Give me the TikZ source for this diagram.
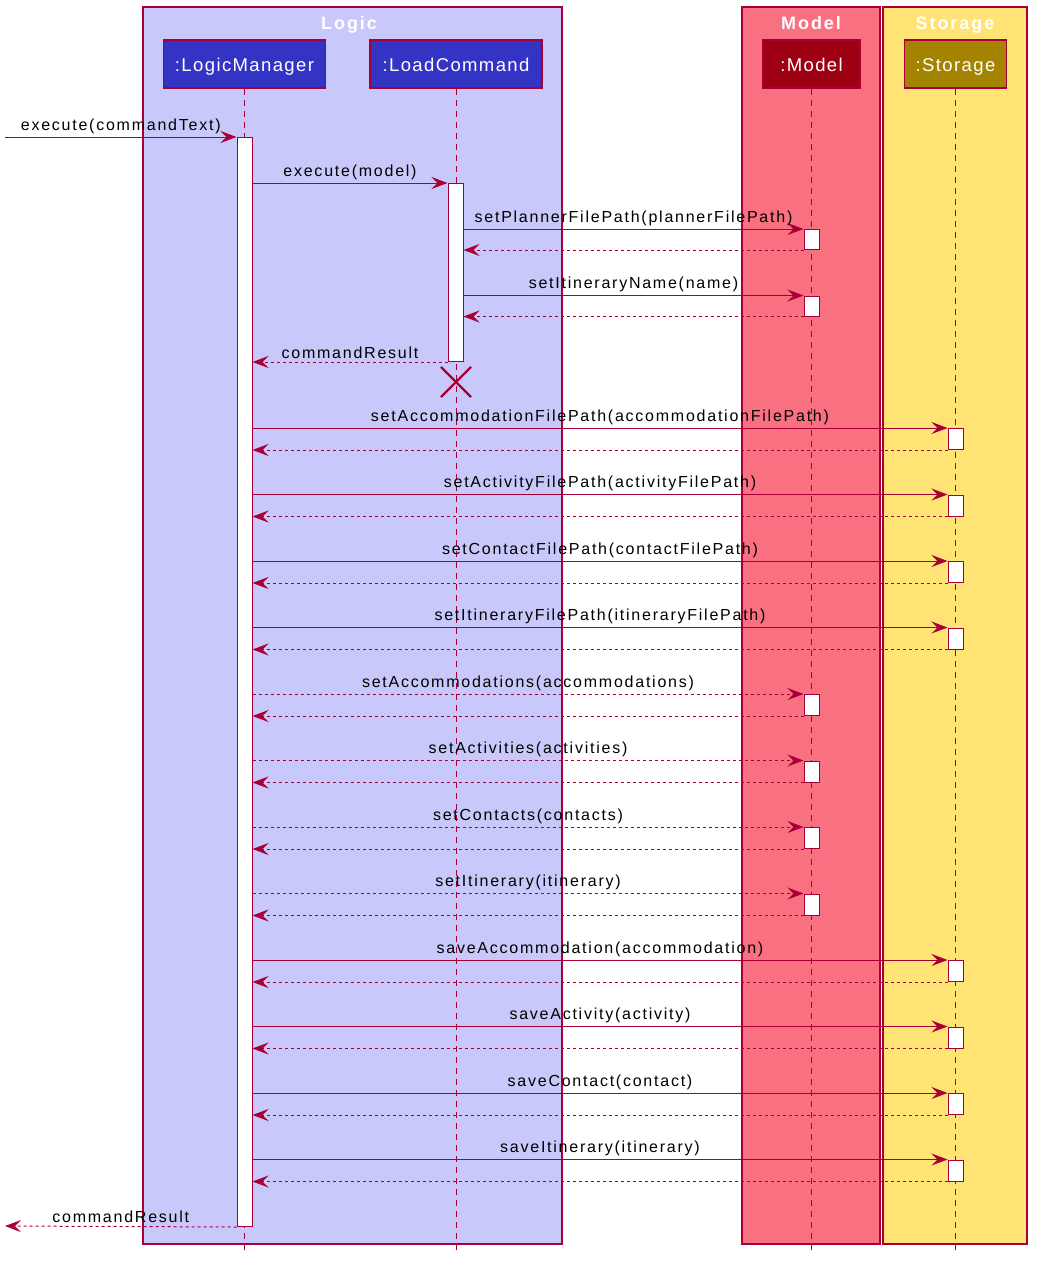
\documentclass[tikz,border=0pt]{standalone}
\usepackage{fontspec}
\setmainfont{Liberation Sans}[LetterSpace=11]
\newfontfamily\partfont{Liberation Sans}[LetterSpace=7.5]
\definecolor{arrowcol}{HTML}{A80036}
\definecolor{logiccol}{HTML}{3333C4}
\definecolor{logicbg}{HTML}{C8C8FA}
\definecolor{modelcol}{HTML}{9D0012}
\definecolor{modelbg}{HTML}{F97181}
\definecolor{storagecol}{HTML}{A38300}
\definecolor{storagebg}{HTML}{FFE374}
\usetikzlibrary{arrows.meta,shapes.misc}

\tikzset{
  grp/.style={draw=arrowcol,line width=1.2pt},
  grptitle/.style={text=white,text height=13pt,text depth=0pt,inner sep=0pt,font=\fontsize{18}{20}\selectfont\bfseries},
  part/.style={draw=arrowcol,line width=1.5pt,minimum height=48pt,text=white,text height=14pt,text depth=0pt,font=\partfont\fontsize{18.5}{20}\selectfont,inner sep=0pt},
  life/.style={arrowcol,line width=1pt,dash pattern=on 6pt off 5pt},
  act/.style={draw=arrowcol,fill=white,line width=1pt,minimum width=15pt,inner sep=0pt,anchor=north},
  msg/.style={arrowcol,line width=1pt,-{Stealth[length=16pt,width=12pt,inset=6pt]}},
  ret/.style={msg,dash pattern=on 3pt off 3pt},
  lbl/.style={midway,above,inner sep=3pt,text=black,font=\fontsize{16}{18}\selectfont}
}

\begin{document}
\begin{tikzpicture}[x=1pt,y=-1pt]
      \useasboundingbox (0,0) rectangle (1042,1270);
      % group boxes
      \draw[grp,fill=logicbg] (143,7) rectangle (562,1244);
      \draw[grp,fill=modelbg] (742,7) rectangle (880,1244);
      \draw[grp,fill=storagebg] (883,7) rectangle (1027,1244);
      \node[grptitle] (logicT) at (349,22.5) {Logic};
      \node[grptitle] (modelT) at (811,22.5) {Model};
      \node[grptitle] (storageT) at (955,22.5) {Storage};
      % participants
      \node[part,fill=logiccol,minimum width=162pt] (lm) at (244.5,64) {:LogicManager};
      \node[part,fill=logiccol,minimum width=172pt] (lc) at (456,64) {:LoadCommand};
      \node[part,fill=modelcol,minimum width=97pt] (md) at (811.5,64) {:Model};
      \node[part,fill=storagecol,minimum width=102pt] (st) at (955.5,64) {:Storage};
      \coordinate (bottom) at (0,1251);
      \foreach \p in {lm,lc,md,st}
        \draw[life] (\p.south) -- (\p.south |- bottom);
      % activations
      \node[act,minimum height=1089pt] (lmA) at (244.5,137) {};
      \node[act,minimum height=178pt] (lcA) at (455.5,183) {};
      \node[cross out,draw=arrowcol,line width=2.2pt,minimum size=28pt,inner sep=0pt] (lcX) at (456,382) {};
      % messages
      \coordinate (inStart) at (5,137);
      \draw[msg] (inStart) -- (lmA.north west) node[lbl] {execute(commandText)};
      \draw[msg] (lmA.east |- lcA.north) -- (lcA.north west) node[lbl] {execute(model)};
      \foreach \y/\n/\t in {229/1/setPlannerFilePath(plannerFilePath),295.5/2/setItineraryName(name)} {
        \node[act,minimum height=20pt] (mP\n) at (811.5,\y) {};
        \draw[msg] (lcA.east |- mP\n.north) -- (mP\n.north west) node[lbl] {\t};
        \draw[ret] (mP\n.south west) -- (lcA.east |- mP\n.south);
      }
      \draw[ret] (lcA.south west) -- (lmA.east |- lcA.south) node[lbl] {commandResult};
      \foreach \y/\n/\t in {428/1/setAccommodationFilePath(accommodationFilePath),
          494.5/2/setActivityFilePath(activityFilePath),
          561/3/setContactFilePath(contactFilePath),
          627.5/4/setItineraryFilePath(itineraryFilePath),
          960/5/saveAccommodation(accommodation),
          1026.5/6/saveActivity(activity),
          1093/7/saveContact(contact),
          1159.5/8/saveItinerary(itinerary)} {
        \node[act,minimum height=21pt] (sA\n) at (955.5,\y) {};
        \draw[msg] (lmA.east |- sA\n.north) -- (sA\n.north west) node[lbl] {\t};
        \draw[ret] (sA\n.south west) -- (lmA.east |- sA\n.south);
      }
      \foreach \y/\n/\t in {694/1/setAccommodations(accommodations),
          760.5/2/setActivities(activities),
          827/3/setContacts(contacts),
          893.5/4/setItinerary(itinerary)} {
        \node[act,minimum height=21pt] (mA\n) at (811.5,\y) {};
        \draw[ret] (lmA.east |- mA\n.north) -- (mA\n.north west) node[lbl] {\t};
        \draw[ret] (mA\n.south west) -- (lmA.east |- mA\n.south);
      }
      \coordinate (outEnd) at (5,1226);
      \draw[ret] (lmA.south west) -- (outEnd) node[lbl] {commandResult};
    \end{tikzpicture}
\end{document}
